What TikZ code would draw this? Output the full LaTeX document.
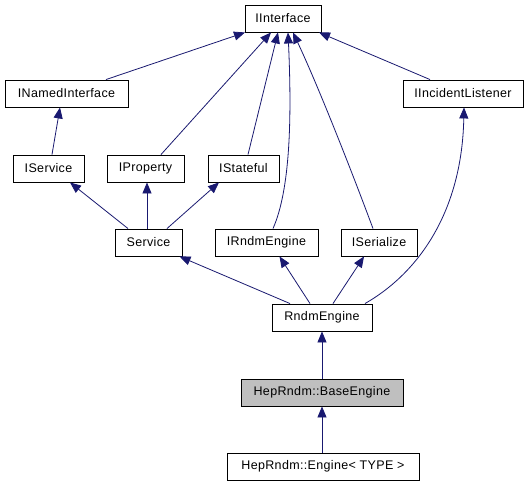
\documentclass[tikz,border=0pt]{standalone}
\usepackage{fontspec}
\setmainfont{Liberation Sans}[LetterSpace=2.7]
\usetikzlibrary{arrows.meta}
\definecolor{edgeblue}{RGB}{25,25,112}
\definecolor{basegray}{RGB}{191,191,191}
\begin{document}
\begin{tikzpicture}[x=1pt,y=-1pt,
  cls/.style={draw=black, line width=0.9pt, fill=white, rectangle, minimum height=27pt, inner sep=0pt, font=\fontsize{12.5}{15}\selectfont},
  edge/.style={draw=edgeblue, line width=0.8pt, -{Triangle[length=11pt,width=9pt]}}]
\useasboundingbox[fill=white] (0,0) rectangle (528,485);
% nodes
\node[cls, minimum width=76pt]  (IInterface) at (283,18.5) {IInterface};
\node[cls, minimum width=123pt] (INamed) at (66.5,93.5) {INamedInterface};
\node[cls, minimum width=120pt] (IIncident) at (463,93.5) {IIncidentListener};
\node[cls, minimum width=71pt]  (IService) at (48.5,168.5) {IService};
\node[cls, minimum width=77pt]  (IProperty) at (145.5,168.5) {IProperty};
\node[cls, minimum width=71pt]  (IStateful) at (243.5,168.5) {IStateful};
\node[cls, minimum width=67pt]  (Service) at (148.5,242.5) {Service};
\node[cls, minimum width=103pt] (IRndmEngine) at (266.5,242.5) {IRndmEngine};
\node[cls, minimum width=76pt]  (ISerialize) at (379,242.5) {ISerialize};
\node[cls, minimum width=100pt] (RndmEngine) at (322,317.5) {RndmEngine};
\node[cls, minimum width=162pt, fill=basegray] (BaseEngine) at (322,392.5) {HepRndm::BaseEngine};
\node[cls, minimum width=192pt] (Engine) at (323,466.5) {HepRndm::Engine< TYPE >};
% edges
\draw[edge] ([xshift=39.5pt]INamed.north) -- ([xshift=-38pt]IInterface.south);
\draw[edge] ([xshift=15.5pt]IProperty.north) -- ([xshift=-12pt]IInterface.south);
\draw[edge] ([xshift=4.5pt]IStateful.north) -- ([xshift=-5pt]IInterface.south);
\draw[edge] ([xshift=6.5pt]IRndmEngine.north) .. controls (290,190) and (292,120) .. ([xshift=5pt]IInterface.south);
\draw[edge] ([xshift=-6pt]ISerialize.north) .. controls (355,180) and (320,90) .. ([xshift=10pt]IInterface.south);
\draw[edge] ([xshift=-33pt]IIncident.north) -- ([xshift=36pt]IInterface.south);
\draw[edge] ([xshift=3.5pt]IService.north) -- ([xshift=-6.5pt]INamed.south);
\draw[edge] ([xshift=-20.5pt]Service.north) -- ([xshift=21.5pt]IService.south);
\draw[edge] ([xshift=-1.5pt]Service.north) -- ([xshift=1.5pt]IProperty.south);
\draw[edge] ([xshift=18.5pt]Service.north) -- ([xshift=-24.5pt]IStateful.south);
\draw[edge] ([xshift=-32pt]RndmEngine.north) -- ([xshift=31pt]Service.south);
\draw[edge] ([xshift=-12pt]RndmEngine.north) -- ([xshift=13pt]IRndmEngine.south);
\draw[edge] ([xshift=11pt]RndmEngine.north) -- ([xshift=-15pt]ISerialize.south);
\draw[edge] ([xshift=43pt]RndmEngine.north) .. controls (420,272) and (462,210) .. ([xshift=1pt]IIncident.south);
\draw[edge] (BaseEngine.north) -- (RndmEngine.south);
\draw[edge] ([xshift=-1pt]Engine.north) -- (BaseEngine.south);
\end{tikzpicture}
\end{document}
